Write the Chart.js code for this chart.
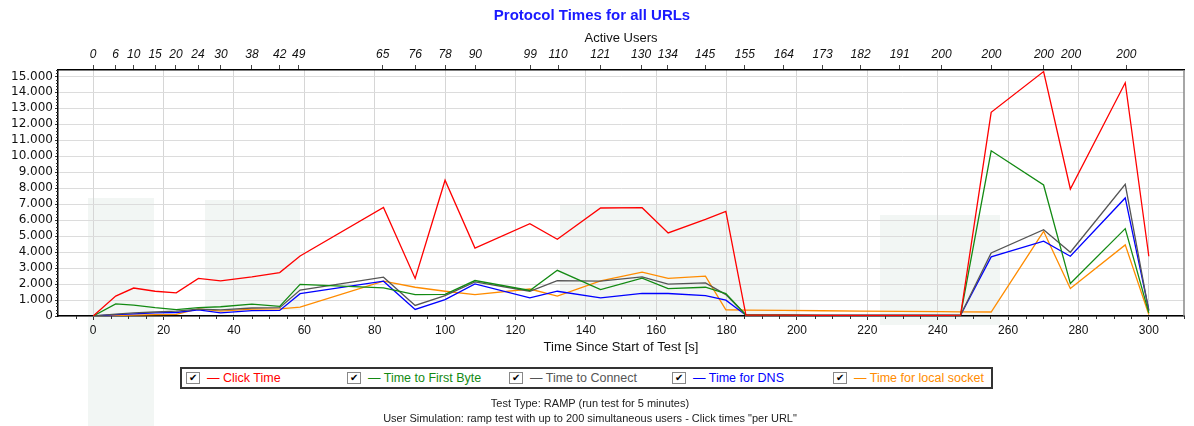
<!DOCTYPE html>
<html>
<head>
<meta charset="utf-8">
<title>Protocol Times for all URLs</title>
<script src="https://cdn.jsdelivr.net/npm/chart.js@4.4.0/dist/chart.umd.min.js"></script>
<style>
  body { margin: 0; background: #fff; }
  #wrap { position: relative; width: 1194px; height: 426px; overflow: hidden; font-family: "Liberation Sans", Arial, sans-serif; }
  .wm { position: absolute; background: #f2f6f4; }
  #c { position: absolute; left: 0; top: 0; }
  #legend { position: absolute; left: 180px; top: 367px; width: 809px; height: 18px; border: 2px solid #333; background: #fff; }
  .item { position: absolute; top: 0; height: 18px; line-height: 18px; font-size: 12.5px; white-space: nowrap; }
  .box { display: inline-block; position: relative; top: 2px; width: 12px; height: 10px; border: 1px solid #888; background: #fff;
         font-size: 10px; line-height: 10px; text-align: center; color: #000; vertical-align: top; margin-top: 1px; }
  .lbl { margin-left: 7px; }
  #foot { position: absolute; left: 0; top: 396px; width: 1180px; text-align: center; font-size: 11px; line-height: 15px; color: #222; }
</style>
</head>
<body>
<div id="wrap">
  <div class="wm" style="left:88px;top:198px;width:66px;height:228px"></div>
  <div class="wm" style="left:205px;top:200px;width:95px;height:110px"></div>
  <div class="wm" style="left:560px;top:205px;width:240px;height:110px"></div>
  <div class="wm" style="left:880px;top:215px;width:120px;height:110px"></div>
  <canvas id="c" width="1194" height="426"></canvas>
  <div id="legend"></div>
  <div id="foot">
    <div>Test Type: RAMP (run test for 5 minutes)</div>
    <div>User Simulation: ramp test with up to 200 simultaneous users - Click times "per URL"</div>
  </div>
</div>
<script>
// sample times [s]
const times = [0, 6.4, 11.5, 17.6, 23.6, 29.9, 36.2, 45.1, 53.0, 58.8, 82.5, 91.5, 100, 108.5, 124.1, 131.9,
  144.2, 156.0, 163.4, 174.0, 179.8, 185.5, 196.3, 207.3, 218.1, 229.2, 241.1, 246.5, 255.2, 270.1, 277.7, 293.3, 300];

// protocol times [ms]
const clickTime = [0, 1250, 1750, 1550, 1450, 2350, 2200, 2450, 2720, 3760, 6800, 2350, 8500, 4250, 5780, 4800,
  6760, 6780, 5200, 6050, 6550, 60, 50, 40, 40, 30, 30, 60, 12750, 15300, 7950, 14600, 3740];
const firstByte = [0, 760, 680, 520, 400, 520, 580, 740, 600, 1980, 1760, 1340, 1360, 2220, 1600, 2860,
  1650, 2370, 1720, 1800, 1400, 60, 50, 40, 40, 30, 30, 60, 10340, 8200, 2030, 5470, 200];
const connectTime = [0, 120, 200, 250, 310, 430, 380, 500, 520, 1620, 2430, 660, 1280, 2140, 1550, 2220,
  2180, 2450, 1990, 2070, 1340, 60, 50, 40, 40, 30, 30, 60, 3950, 5400, 3990, 8240, 300];
const dnsTime = [0, 80, 130, 200, 220, 380, 200, 340, 350, 1400, 2180, 410, 1030, 2010, 1140, 1550,
  1140, 1410, 1410, 1280, 990, 50, 40, 40, 30, 30, 30, 50, 3700, 4680, 3740, 7390, 380];
const socketTime = [0, 30, 60, 90, 100, 450, 300, 430, 450, 550, 2180, 1800, 1550, 1340, 1690, 1240,
  2200, 2740, 2360, 2490, 390, 370, 350, 330, 310, 290, 270, 260, 250, 5300, 1720, 4450, 90];

// top axis: active users
const userTimes = [0, 6.4, 11.5, 17.6, 23.5, 29.8, 36.3, 45.1, 53.0, 58.4, 82.3, 91.5, 100, 108.6, 124.2, 132.1,
  144.1, 155.7, 163.3, 173.9, 185.2, 196.3, 207.3, 218.1, 229.2, 241.1, 255.3, 270.2, 277.9, 293.6];
const activeUsers = [0, 6, 10, 15, 20, 24, 30, 38, 42, 49, 65, 76, 78, 90, 99, 110,
  121, 130, 134, 145, 155, 164, 173, 182, 191, 200, 200, 200, 200, 200];

const xTicks = [0, 20, 40, 60, 80, 100, 120, 140, 160, 180, 200, 220, 240, 260, 280, 300];
const yTicks = [0, 1000, 2000, 3000, 4000, 5000, 6000, 7000, 8000, 9000, 10000, 11000, 12000, 13000, 14000, 15000];

const seriesNames = ["Click Time", "Time to First Byte", "Time to Connect", "Time for DNS", "Time for local socket"];
const seriesColors = ["#ff0000", "#138a13", "#555555", "#0000ff", "#ff8c00"];
const seriesData = [clickTime, firstByte, connectTime, dnsTime, socketTime];

const fmt = v => String(v).replace(/\B(?=(\d{3})+(?!\d))/g, ".");

const minorTicks = {
  id: "minorTicks",
  afterDraw(chart) {
    const { ctx, chartArea, scales } = chart;
    ctx.save();
    ctx.strokeStyle = "#333";
    ctx.lineWidth = 1;
    ctx.beginPath();
    for (let v = 200; v <= 15400; v += 200) {
      if (v % 1000 === 0) continue;
      const y = Math.round(scales.y.getPixelForValue(v)) + 0.5;
      ctx.moveTo(chartArea.left - 2, y);
      ctx.lineTo(chartArea.left, y);
    }
    for (let v = -5; v <= 310; v += 5) {
      if (v % 20 === 0) continue;
      const x = Math.round(scales.x.getPixelForValue(v)) + 0.5;
      ctx.moveTo(x, chartArea.bottom);
      ctx.lineTo(x, chartArea.bottom + 3);
    }
    ctx.stroke();
    ctx.strokeStyle = "#888";
    ctx.lineWidth = 1.5;
    ctx.beginPath();
    ctx.moveTo(chartArea.right, chartArea.top);
    ctx.lineTo(chartArea.right, chartArea.bottom);
    ctx.stroke();
    ctx.restore();
  }
};

const config = {
  type: "line",
  data: {
    datasets: seriesNames.map((name, k) => ({
      label: name,
      data: times.map((t, i) => ({ x: t, y: seriesData[k][i] })),
      borderColor: seriesColors[k],
      backgroundColor: seriesColors[k],
      borderWidth: 1.3,
      pointRadius: 0,
      tension: 0,
    })),
  },
  options: {
    responsive: false,
    animation: false,
    layout: { padding: { top: 0, left: 0, right: 10, bottom: 65 } },
    plugins: {
      legend: { display: false },
      tooltip: { enabled: false },
      title: {
        display: true,
        text: "Protocol Times for all URLs",
        color: "#1a1aff",
        font: { family: "Liberation Sans", size: 15, weight: "bold", lineHeight: 1.2 },
        padding: { top: 7, bottom: 0 },
      },
    },
    scales: {
      x: {
        type: "linear",
        position: "bottom",
        min: -10,
        max: 310,
        afterBuildTicks: s => { s.ticks = xTicks.map(v => ({ value: v })); },
        afterFit: s => { s.height = 45; },
        ticks: { color: "#111", font: { family: "Liberation Sans", size: 12 }, padding: 3, maxRotation: 0, autoSkip: false },
        grid: { color: "#d6d6d6", tickColor: "#333", tickLength: 4, lineWidth: 1 },
        border: { color: "#000", width: 1.5 },
        title: { display: true, text: "Time Since Start of Test [s]", color: "#111",
          font: { family: "Liberation Sans", size: 13, lineHeight: 1.2 }, padding: { top: 0, bottom: 6 } },
      },
      x2: {
        type: "linear",
        position: "top",
        min: -10,
        max: 310,
        afterBuildTicks: s => { s.ticks = userTimes.map(v => ({ value: v })); },
        afterFit: s => { s.height = 45; },
        ticks: {
          color: "#111",
          font: { family: "Liberation Sans", size: 12, style: "italic" },
          padding: 3, maxRotation: 0, autoSkip: false,
          callback: (v, i) => String(activeUsers[i]),
        },
        grid: { drawOnChartArea: false, tickColor: "#444", tickLength: 5 },
        border: { color: "#000", width: 1.5 },
        title: { display: true, text: "Active Users", color: "#111",
          font: { family: "Liberation Sans", size: 13, lineHeight: 1.2 }, padding: { top: 6, bottom: 0 } },
      },
      y: {
        type: "linear",
        min: 0,
        max: 15400,
        afterBuildTicks: s => { s.ticks = yTicks.map(v => ({ value: v })); },
        afterFit: s => { s.width = 58; },
        ticks: { color: "#111", font: { family: "DejaVu Sans", size: 12 }, padding: 2, autoSkip: false, callback: v => fmt(v) },
        grid: { color: "#dcdcdc", tickColor: "#333", tickLength: 3 },
        border: { color: "#000", width: 1.5 },
      },
    },
  },
  plugins: [minorTicks],
};

new Chart(document.getElementById("c"), config);

// legend with checkboxes
const legendEl = document.getElementById("legend");
const legendLeft = [4, 165, 327, 490, 651];
seriesNames.forEach((name, k) => {
  const item = document.createElement("div");
  item.className = "item";
  item.style.left = legendLeft[k] + "px";
  item.style.color = seriesColors[k];
  item.innerHTML = '<span class="box">\u2714</span><span class="lbl">\u2014 ' + name + "</span>";
  legendEl.appendChild(item);
});
</script>
</body>
</html>
